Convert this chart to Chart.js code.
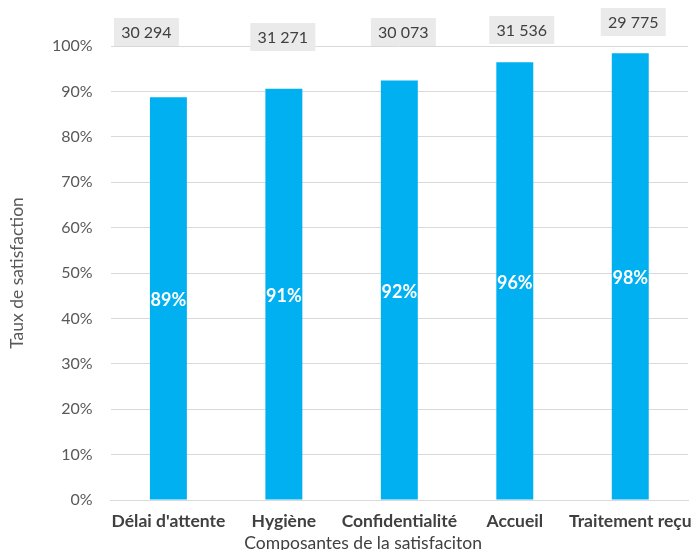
<!DOCTYPE html>
<html>
<head>
<meta charset="utf-8">
<script src="https://cdn.jsdelivr.net/npm/chart.js@4.4.0/dist/chart.umd.min.js"></script>
<style>
html,body{margin:0;padding:0;background:#fff;}
#wrap{width:697px;height:550px;}
</style>
</head>
<body>
<div id="wrap"><canvas id="c" width="697" height="550"></canvas></div>
<script>
const categories = ["Délai d'attente", "Hygiène", "Confidentialité", "Accueil", "Traitement reçu"];
const satisfaction = [88.7, 90.6, 92.4, 96.4, 98.4];
const respondents = ["30 294", "31 271", "30 073", "31 536", "29 775"];
const yTicks = [0, 10, 20, 30, 40, 50, 60, 70, 80, 90, 100];
const xTitle = 'Composantes de la satisfaciton';

const FONT = "Lato, 'Open Sans', sans-serif";
const boxOffsetsX = [-22, -1, 4, 7, 3];
const boxTops = [18, 23, 18, 16, 8];

const labelPlugin = {
  id: 'labels',
  afterDatasetsDraw(chart) {
    const ctx = chart.ctx;
    const meta = chart.getDatasetMeta(0);
    ctx.save();
    meta.data.forEach((bar, i) => {
      ctx.font = "bold 18px " + FONT;
      ctx.fillStyle = '#ffffff';
      ctx.textAlign = 'center';
      ctx.textBaseline = 'middle';
      const mid = (bar.y + bar.base) / 2;
      ctx.fillText(Math.round(satisfaction[i]) + '%', bar.x, mid + 2);
      const cx = bar.x + boxOffsetsX[i];
      const w = 65, h = 28;
      const top = boxTops[i];
      ctx.fillStyle = '#eaeaea';
      ctx.fillRect(cx - w / 2, top, w, h);
      ctx.font = "16px " + FONT;
      ctx.fillStyle = '#404040';
      ctx.fillText(respondents[i], cx, top + h / 2 + 1);
    });
    // x axis title (offset left of plot centre as in the original)
    ctx.font = "17.5px " + FONT;
    ctx.fillStyle = '#404040';
    ctx.textAlign = 'center';
    ctx.textBaseline = 'middle';
    ctx.fillText(xTitle, chart.width * 0.521, chart.height - 7);
    ctx.restore();
  }
};

new Chart(document.getElementById('c'), {
  type: 'bar',
  data: {
    labels: categories,
    datasets: [{
      data: satisfaction,
      backgroundColor: '#00B0F0',
      borderWidth: 0,
      barPercentage: 0.32,
      categoryPercentage: 1.0
    }]
  },
  options: {
    responsive: false,
    animation: false,
    devicePixelRatio: 1,
    layout: { padding: { top: 46, left: 7, right: 9, bottom: 6.5 } },
    plugins: {
      legend: { display: false },
      tooltip: { enabled: false }
    },
    scales: {
      x: {
        afterFit(scale) { scale.paddingLeft = 0; scale.paddingRight = 0; },
        grid: { display: false, drawTicks: false },
        border: { display: true, color: '#d9d9d9', width: 1 },
        ticks: { color: '#404040', font: { family: FONT, size: 17.5, weight: 'bold', lineHeight: 1 }, padding: 13, maxRotation: 0, autoSkip: false },
        title: { display: false, text: xTitle }
      },
      y: {
        min: 0, max: 100,
        afterBuildTicks(axis) { axis.ticks = yTicks.map(v => ({ value: v })); },
        grid: { color: '#d9d9d9', lineWidth: 1, drawTicks: false },
        border: { display: false },
        ticks: { color: '#595959', font: { family: FONT, size: 16 }, padding: 18, callback: v => v + '%' },
        title: { display: true, text: 'Taux de satisfaction', color: '#595959', font: { family: FONT, size: 17.5, lineHeight: 1.2 }, padding: { top: 0, bottom: 6 } }
      }
    }
  },
  plugins: [labelPlugin]
});
</script>
</body>
</html>
